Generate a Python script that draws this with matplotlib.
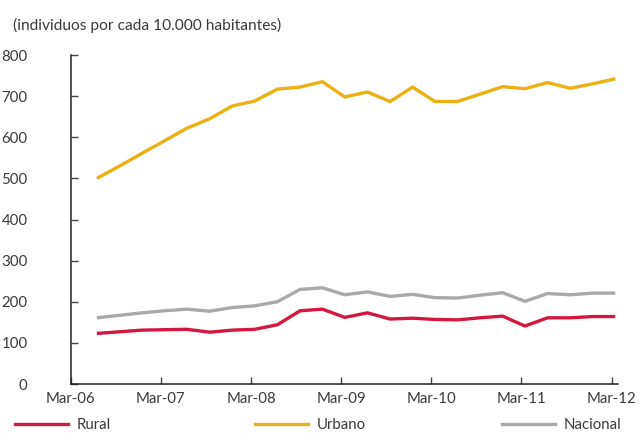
import matplotlib
matplotlib.use("Agg")
import matplotlib.pyplot as plt
from matplotlib.lines import Line2D
import pandas as pd

plt.rcParams['font.family'] = ['Lato', 'DejaVu Sans']

# Quarterly observations, Jun-06 to Mar-12 (plotted mid-month)
periods = pd.date_range("2006-06-01", periods=24, freq="3MS") + pd.Timedelta(days=14)
rural = [123, 127, 131, 132, 133, 126, 131, 133, 144, 178, 182, 162,
         173, 158, 160, 157, 156, 161, 165, 141, 161, 161, 164, 164]
urbano = [500, 530, 561, 591, 622, 645, 676, 688, 717, 722, 735, 698,
          710, 687, 722, 687, 687, 705, 723, 718, 733, 719, 730, 742]
nacional = [161, 167, 173, 178, 182, 177, 186, 190, 200, 230, 234, 217,
            224, 213, 218, 210, 209, 216, 222, 201, 220, 217, 221, 221]
series_names = ["Rural", "Urbano", "Nacional"]
colors = ["#D3173F", "#EDB012", "#A9A9AB"]
y_ticks = [0, 100, 200, 300, 400, 500, 600, 700, 800]
x_ticks = pd.to_datetime(["2006-03-01", "2007-03-01", "2008-03-01", "2009-03-01",
                          "2010-03-01", "2011-03-01", "2012-03-01"])
x_labels = ["Mar-06", "Mar-07", "Mar-08", "Mar-09", "Mar-10", "Mar-11", "Mar-12"]

text_color = "#3a3a3a"
fs = 10.8

fig = plt.figure(figsize=(6.41, 4.33), dpi=100)
ax = fig.add_axes([70.7 / 641, 1 - 384 / 433, (618 - 70.7) / 641, (384 - 55) / 433])

for vals, c in zip([rural, urbano, nacional], colors):
    ax.plot(periods, vals, color=c, lw=2.4, solid_capstyle="butt", solid_joinstyle="miter")

ax.set_ylim(0, 800)
ax.set_xlim(pd.Timestamp("2006-03-01"), pd.Timestamp("2012-03-26"))
ax.set_yticks(y_ticks)
ax.set_xticks(x_ticks)
ax.set_xticklabels(x_labels)

for s in ["top", "right"]:
    ax.spines[s].set_visible(False)
for s in ["left", "bottom"]:
    ax.spines[s].set_color("#222222")
    ax.spines[s].set_linewidth(1.1)

ax.tick_params(axis="y", direction="in", length=5, width=1, color="#444444",
               labelsize=fs, labelcolor=text_color, pad=31)
ax.tick_params(axis="x", direction="in", length=5, width=1, color="#444444",
               labelsize=fs, labelcolor=text_color, pad=6)

fig.text(13 / 641, 1 - 25 / 433, "(individuos por cada 10.000 habitantes)",
         fontsize=11.2, color=text_color, ha="left", va="center")

# Legend entries spread along the bottom
legend_x = [15, 255, 502]
for name, c, lx in zip(series_names, colors, legend_x):
    h = Line2D([], [], color=c, lw=2.4)
    leg = fig.legend([h], [name], loc="center left",
                     bbox_to_anchor=(lx / 641, 1 - 425 / 433),
                     frameon=False, borderpad=0, borderaxespad=0,
                     handlelength=3.5, handletextpad=0.6, fontsize=fs)
    for t in leg.get_texts():
        t.set_color(text_color)

fig.savefig("out.png", dpi=100)
